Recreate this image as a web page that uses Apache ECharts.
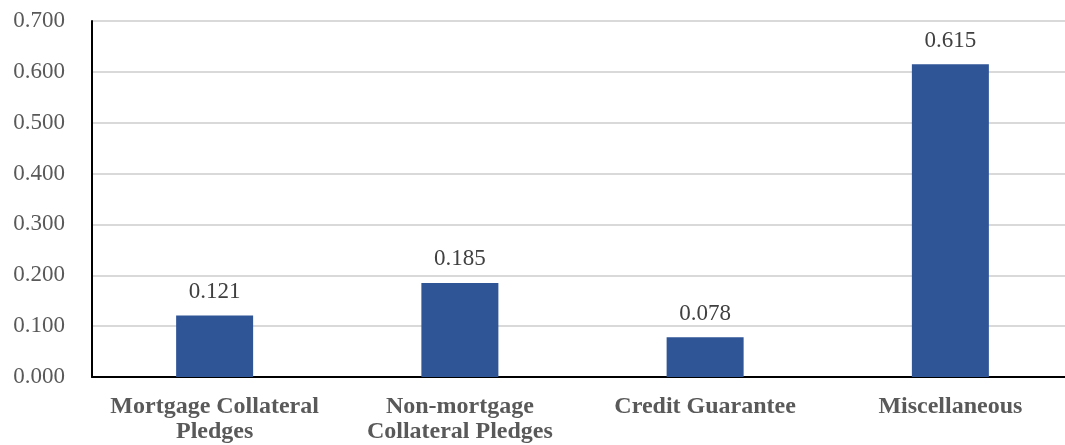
<!DOCTYPE html>
<html>
<head>
<meta charset="utf-8">
<script src="https://cdn.jsdelivr.net/npm/echarts@6/dist/echarts.min.js"></script>
<style>html,body{margin:0;padding:0;background:#fff;overflow:hidden}#c{width:1074px;height:445px}</style>
</head>
<body>
<div id="c"></div>
<script>
const categories = ['Mortgage Collateral\nPledges', 'Non-mortgage\nCollateral Pledges', 'Credit Guarantee', 'Miscellaneous'];
const values = [0.121, 0.185, 0.078, 0.615];
const yTicks = { min: 0, max: 0.7, interval: 0.1 };

const chart = echarts.init(document.getElementById('c'));
chart.setOption({
  animation: false,
  backgroundColor: '#ffffff',
  grid: { left: 92, right: 1, top: 21, bottom: 68, containLabel: false },
  xAxis: {
    type: 'category',
    data: categories,
    axisLine: { lineStyle: { color: '#000', width: 2 } },
    axisTick: { show: false },
    axisLabel: {
      interval: 0,
      margin: 17,
      color: '#595959',
      fontFamily: 'Liberation Serif',
      fontWeight: 'bold',
      fontSize: 24,
      lineHeight: 25
    }
  },
  yAxis: {
    type: 'value',
    min: yTicks.min, max: yTicks.max, interval: yTicks.interval,
    axisLine: { show: true, lineStyle: { color: '#000', width: 2 } },
    axisTick: { show: false },
    splitLine: { lineStyle: { color: '#d9d9d9', width: 2 } },
    axisLabel: {
      margin: 27,
      color: '#595959',
      fontFamily: 'Liberation Serif',
      fontSize: 23,
      formatter: v => v.toFixed(3)
    }
  },
  series: [{
    type: 'bar',
    data: values,
    barWidth: 77,
    itemStyle: { color: '#2F5597' },
    label: {
      show: true,
      position: 'top',
      distance: 12,
      color: '#404040',
      fontFamily: 'Liberation Serif',
      fontSize: 23,
      formatter: p => p.value.toFixed(3)
    }
  }]
});
</script>
</body>
</html>
